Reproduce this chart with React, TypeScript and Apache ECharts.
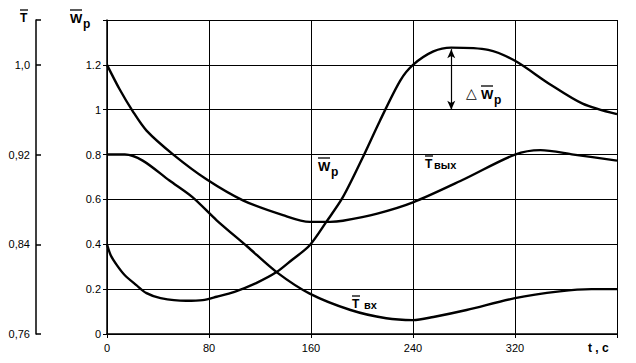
import React, { useEffect, useRef } from "react";
import * as echarts from "echarts";

// t (s) and values (in W̄p axis units)
const wpT = [0, 3, 8, 14, 23, 31, 42, 62, 75, 86, 100, 117, 133, 145, 159, 172, 185, 200, 214, 230, 240, 256, 270, 299, 320, 347, 373, 400];
const wpV = [0.40, 0.35, 0.305, 0.262, 0.218, 0.182, 0.16, 0.148, 0.151, 0.166, 0.188, 0.227, 0.276, 0.33, 0.396, 0.5, 0.61, 0.78, 0.95, 1.13, 1.2, 1.26, 1.277, 1.267, 1.218, 1.115, 1.027, 0.98];

const toutT = [0, 10, 20, 31, 52, 78, 107, 138, 159, 175, 185, 212, 240, 280, 320, 340, 366, 400];
const toutV = [1.2, 1.09, 0.995, 0.907, 0.80, 0.69, 0.595, 0.53, 0.5, 0.5, 0.505, 0.537, 0.587, 0.69, 0.8, 0.82, 0.80, 0.773];

const tinT = [0, 14, 28, 49, 67, 86, 110, 133, 159, 191, 219, 240, 256, 282, 320, 355, 380, 400];
const tinV = [0.8, 0.8, 0.773, 0.684, 0.61, 0.507, 0.39, 0.276, 0.18, 0.107, 0.07, 0.062, 0.076, 0.107, 0.16, 0.19, 0.2, 0.2];

const xTicks = [0, 80, 160, 240, 320];
const tAxisTicks = [0.76, 0.84, 0.92, 1.0];
const deltaT = 270;
const deltaFrom = 1.27;
const deltaTo = 1.0;

const FONT = "Liberation Sans, Arial, sans-serif";

const pairs = (t: number[], v: number[]) => t.map((x, i) => [x, v[i]]);

function overText(text: string, sub: string, x: number, y: number, size: number, barW: number, subscript: boolean) {
  return [
    { type: "text", x, y, style: { text: text, font: `bold ${size}px ${FONT}`, fill: "#000" } },
    sub
      ? {
          type: "text",
          x: x + barW + 1,
          y: subscript ? y + size * 0.45 : y + 1,
          style: { text: sub, font: `bold ${size - 1}px ${FONT}`, fill: "#000" },
        }
      : null,
    { type: "line", shape: { x1: x, y1: y - 2, x2: x + barW, y2: y - 2 }, style: { stroke: "#000", lineWidth: 1.3 } },
  ].filter(Boolean);
}

export default function App() {
  const ref = useRef<HTMLDivElement>(null);
  useEffect(() => {
    const chart = echarts.init(ref.current!, null, { renderer: "svg" });
    const lineStyle = { color: "#000", width: 2.4 };
    chart.setOption({
      animation: false,
      backgroundColor: "#fff",
      grid: { left: 107, right: 19, top: 20, bottom: 29 },
      xAxis: {
        type: "value",
        min: 0,
        max: 400,
        interval: 80,
        axisLine: { lineStyle: { color: "#000", width: 1.5 } },
        axisTick: { show: true, length: 4, lineStyle: { color: "#000" } },
        axisLabel: {
          color: "#000",
          fontFamily: FONT,
          fontSize: 11,
          margin: 8,
          formatter: (v: number) => (xTicks.includes(v) ? String(v) : ""),
        },
        splitLine: { show: true, lineStyle: { color: "#000", width: 1 } },
      },
      yAxis: [
        {
          type: "value",
          min: 0,
          max: 1.4,
          interval: 0.2,
          axisLine: { show: true, lineStyle: { color: "#000", width: 1.5 } },
          axisTick: { show: true, length: 4, lineStyle: { color: "#000" } },
          axisLabel: {
            color: "#000",
            fontFamily: FONT,
            fontSize: 11,
            margin: 6,
            formatter: (v: number) => (v > 1.3 ? "" : String(+v.toFixed(1))),
          },
          splitLine: { show: true, lineStyle: { color: "#000", width: 1 } },
        },
        {
          type: "value",
          position: "left",
          offset: 71,
          min: 0.76,
          max: 1.04,
          axisLine: { show: true, lineStyle: { color: "#000", width: 1.5 } },
          axisTick: {
            show: true,
            inside: true,
            length: 5,
            lineStyle: { color: "#000", width: 1.5 },
            customValues: [...tAxisTicks, 1.04],
          },
          axisLabel: {
            color: "#000",
            fontFamily: FONT,
            fontSize: 11,
            margin: 6,
            customValues: tAxisTicks,
            formatter: (v: number) => (v === 1 ? "1,0" : v.toFixed(2).replace(".", ",")),
          },
          splitLine: { show: false },
        },
      ],
      series: [
        {
          type: "line",
          data: pairs(wpT, wpV),
          smooth: 0.3,
          symbol: "none",
          lineStyle,
          markLine: {
            silent: true,
            symbol: ["arrow", "arrow"],
            symbolSize: [6, 9],
            label: { show: false },
            lineStyle: { color: "#000", width: 1.2, type: "solid" },
            data: [[{ coord: [deltaT, deltaFrom] }, { coord: [deltaT, deltaTo] }]],
          },
        },
        { type: "line", data: pairs(toutT, toutV), smooth: 0.3, symbol: "none", lineStyle },
        { type: "line", data: pairs(tinT, tinV), smooth: 0.3, symbol: "none", lineStyle },
      ],
      graphic: [
        ...overText("T", "", 20, 12, 12, 8, false),
        ...overText("W", "p", 70, 12, 13, 12, true),
        ...overText("W", "p", 318, 160, 13, 12, true),
        ...overText("T", "вых", 425, 158, 12, 8, false),
        ...overText("T", " вх", 352, 298, 12, 8, false),
        { type: "text", x: 466, y: 86, style: { text: "△", font: `14px ${FONT}`, fill: "#000" } },
        ...overText("W", "p", 481, 88, 13, 12, true),
        { type: "text", x: 588, y: 342, style: { text: "t , c", font: `bold 12px ${FONT}`, fill: "#000" } },
      ],
    });
    return () => chart.dispose();
  }, []);
  return <div ref={ref} style={{ position: "fixed", left: 0, top: 0, width: 636, height: 363 }} />;
}
